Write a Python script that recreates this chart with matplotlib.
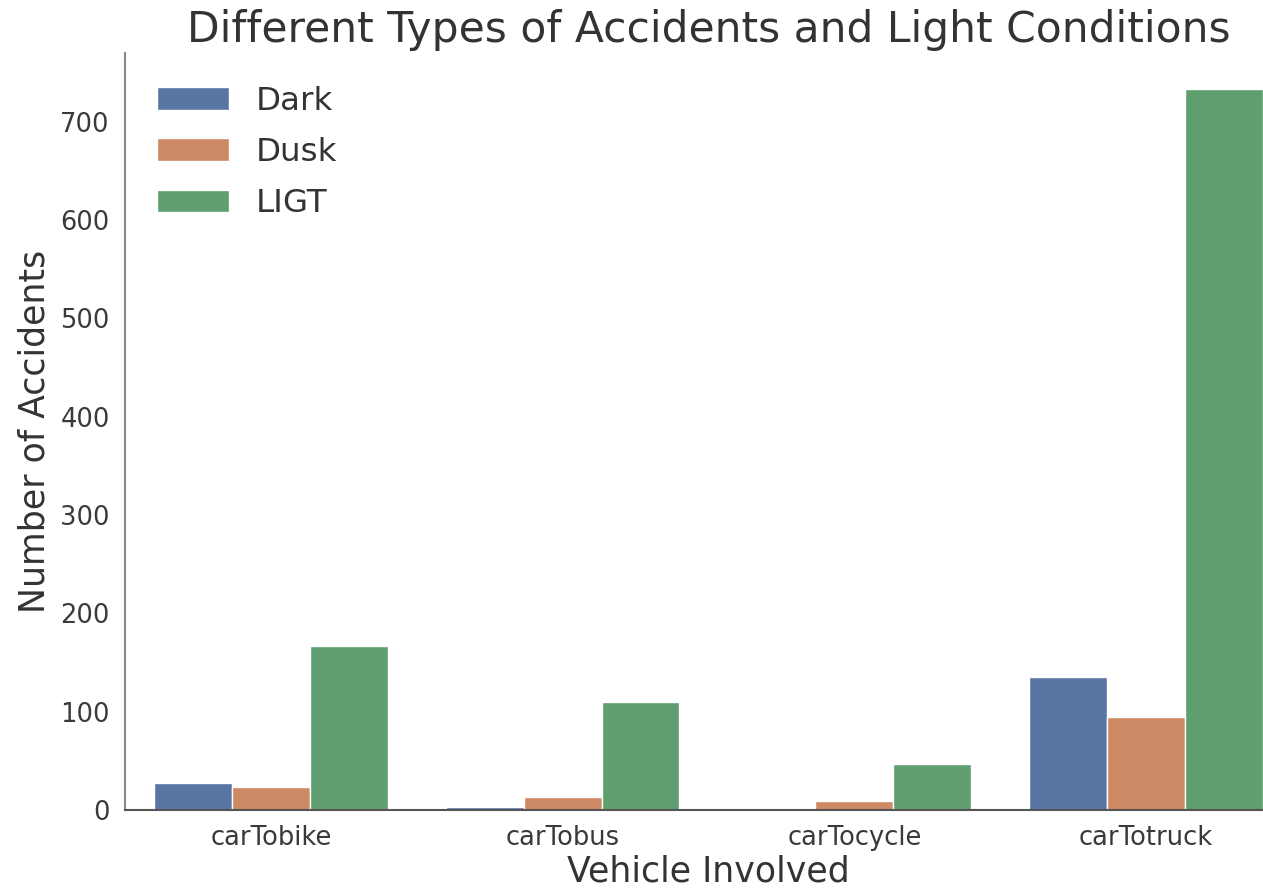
import matplotlib
matplotlib.use("Agg")
import matplotlib.pyplot as plt
import numpy as np

categories = ["carTobike", "carTobus", "carTocycle", "carTotruck"]
series_names = ["Dark", "Dusk", "LIGT"]
dark = [27, 3, 2, 135]
dusk = [23, 13, 9, 95]
ligt = [167, 110, 47, 733]
colors = ["#5975A4", "#CC8963", "#5F9E6E"]

plt.rcParams['font.family'] = ['DejaVu Sans']
fig = plt.figure(figsize=(12.63, 8.9), dpi=100)
ax = fig.add_axes([125/1263, 1 - 810/890, (1292-125)/1263, (810-53)/890])

x = np.arange(len(categories))
w = 0.8 / 3
for i, (vals, name) in enumerate(zip([dark, dusk, ligt], series_names)):
    ax.bar(x - 0.4 + w/2 + i*w, vals, width=w, color=colors[i], label=name,
           edgecolor="white", linewidth=1)

ax.set_xlim(-0.5, 3.5)
ax.set_ylim(0, 770)
ax.set_xticks(x)
ax.set_xticklabels(categories)
ax.set_yticks([0, 100, 200, 300, 400, 500, 600, 700])
ax.tick_params(axis='both', labelsize=18.5, colors="#3a3a3a", length=0, pad=11)
for s in ["top", "right"]:
    ax.spines[s].set_visible(False)
ax.spines["left"].set_color("#8a8a8a")
ax.spines["bottom"].set_color("#555555")
ax.spines["left"].set_linewidth(1.5)
ax.spines["bottom"].set_linewidth(1.5)

ax.set_xlabel("Vehicle Involved", fontsize=25, color="#333333", labelpad=2)
ax.set_ylabel("Number of Accidents", fontsize=25, color="#333333", labelpad=6)
ax.set_title("Different Types of Accidents and Light Conditions", fontsize=30.5,
             color="#333333", pad=8)
leg = ax.legend(loc="upper left", frameon=False, fontsize=23.4, handlelength=2.2,
                handleheight=0.7, labelspacing=0.62, handletextpad=0.85,
                borderaxespad=0.0, bbox_to_anchor=(19/1167, 1 - 20/757))
for t in leg.get_texts():
    t.set_color("#333333")

fig.savefig("out.png", dpi=100)
